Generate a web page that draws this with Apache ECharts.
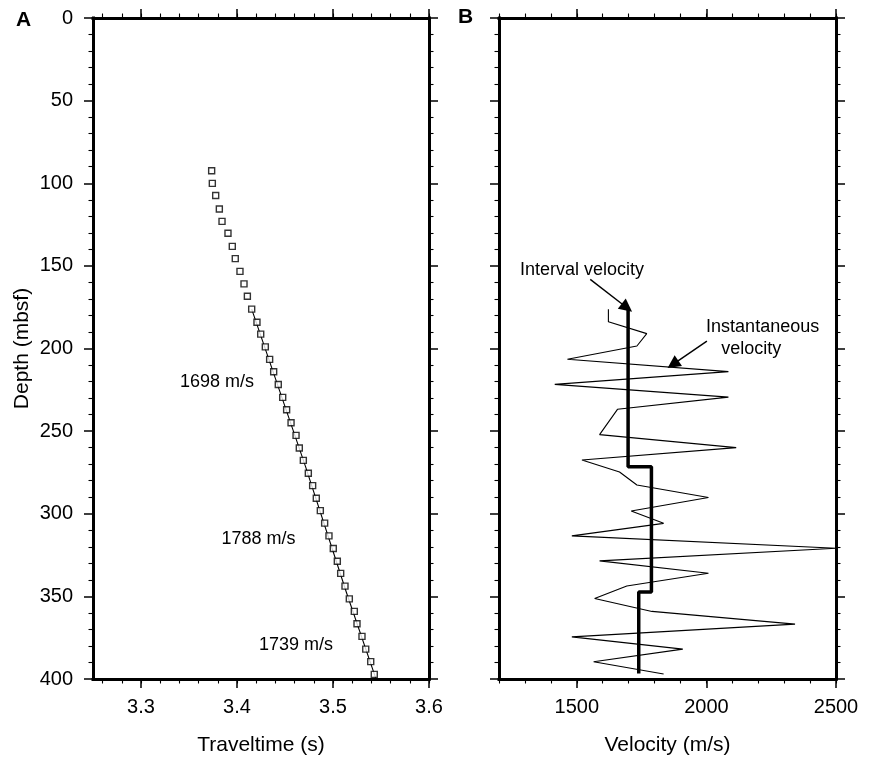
<!DOCTYPE html>
<html>
<head>
<meta charset="utf-8">
<script src="https://cdn.jsdelivr.net/npm/echarts@6/dist/echarts.min.js"></script>
<style>
  html, body { margin: 0; padding: 0; background: #fff; }
  #chart { width: 872px; height: 761px; }
</style>
</head>
<body>
<div id="chart"></div>
<script>
const FONT = 'Liberation Sans, Arial, Helvetica, sans-serif'

// panel A: check-shot traveltimes
const checkDepth = [
  92.4, 100.1, 107.4, 115.6, 123.1, 130.3, 138.2, 145.6, 153.3, 160.9,
  168.4, 176.2, 184.1, 191.3, 199.0, 206.6, 214.1, 221.8, 229.6, 237.1,
  244.9, 252.6, 260.2, 267.7, 275.5, 283.0, 290.6, 298.1, 305.7, 313.4,
  321.0, 328.7, 336.1, 343.8, 351.5, 359.1, 366.6, 374.2, 381.9, 389.5, 397.2
]
const checkTime = [
  3.3736, 3.3743, 3.3778, 3.3816, 3.3844, 3.3906, 3.3951, 3.3982, 3.4031, 3.4073,
  3.4108, 3.4153, 3.4208, 3.4247, 3.4295, 3.4340, 3.4382, 3.4430, 3.4476, 3.4517,
  3.4563, 3.4615, 3.4649, 3.4691, 3.4743, 3.4788, 3.4826, 3.4868, 3.4913, 3.4958,
  3.5003, 3.5045, 3.5080, 3.5125, 3.5170, 3.5222, 3.5250, 3.5302, 3.5341, 3.5393, 3.5430
]
const fitDepth = [176.2, 271.5, 347.5, 399.5]
const fitTime = [3.4153, 3.4714, 3.5139, 3.5445]
const fitLabels = ['1698 m/s', '1788 m/s', '1739 m/s']
const fitLabelTime = [3.3792, 3.4224, 3.4615]
const fitLabelDepth = [220.5, 315.4, 379.5]
const timeTicks = [3.3, 3.4, 3.5, 3.6]

// panel B: velocities
const instDepth = [
  176.3, 183.8, 191.0, 198.5, 206.5, 214.0, 221.7, 229.4, 236.8, 252.1,
  260.0, 267.5, 274.7, 282.6, 290.2, 298.3, 305.8, 313.4, 320.9, 328.5,
  336.0, 343.7, 351.3, 359.1, 366.8, 374.5, 381.9, 389.6, 397.0
]
const instVel = [
  1622, 1622, 1770, 1732, 1464, 2085, 1415, 2085, 1657, 1588,
  2115, 1520, 1665, 1732, 2008, 1710, 1835, 1481, 2500, 1588,
  2008, 1693, 1569, 1790, 2342, 1481, 1909, 1565, 1835
]
const intDepth = [176.3, 271.5, 271.5, 347.4, 347.4, 396.6]
const intVel = [1698, 1698, 1788, 1788, 1739, 1739]
const velTicks = [1500, 2000, 2500]

const zip = (xs, ys) => xs.map((x, i) => [x, ys[i]])
const steps = (from, to, step) => {
  const out = []
  for (let v = from; v <= to + 1e-9; v += step) out.push(Math.round(v * 1000) / 1000)
  return out
}

const black = '#000'
const thick = { show: true, onZero: false, lineStyle: { color: black, width: 3, cap: 'square' } }
const majorTick = { length: 9, lineStyle: { color: black, width: 1.5 } }
const minorTick = { length: 4.5, lineStyle: { color: black, width: 1.1 } }

function frameX(gridIndex, min, max, major, minor, name, fmt) {
  const base = {
    type: 'value', gridIndex, min, max,
    splitLine: { show: false },
    axisLine: { show: false, onZero: false },
    axisLabel: { show: false },
    axisTick: { show: false }
  }
  return [
    {
      ...base, position: 'bottom', axisLine: thick,
      axisTick: { show: true, customValues: major, ...majorTick },
      axisLabel: {
        show: true, customValues: major, formatter: fmt, margin: 18,
        color: black, fontSize: 20, fontFamily: FONT
      },
      name, nameLocation: 'middle', nameGap: 56,
      nameTextStyle: { color: black, fontSize: 21, fontFamily: FONT }
    },
    { ...base, position: 'bottom', axisTick: { show: true, customValues: minor, ...minorTick } },
    { ...base, position: 'top', axisLine: thick, axisTick: { show: true, customValues: major, ...majorTick } },
    { ...base, position: 'top', axisTick: { show: true, customValues: minor, ...minorTick } }
  ]
}

function frameY(gridIndex, labels, name) {
  const base = {
    type: 'value', gridIndex, min: 0, max: 400, interval: 50, inverse: true,
    splitLine: { show: false },
    axisLine: thick,
    axisTick: { show: true, ...majorTick },
    minorTick: { show: true, splitNumber: 5, ...minorTick },
    minorSplitLine: { show: false },
    axisLabel: { show: false }
  }
  const left = { ...base, position: 'left' }
  if (labels) {
    left.axisLabel = { show: true, margin: 20, color: black, fontSize: 20, fontFamily: FONT }
    left.name = name
    left.nameLocation = 'middle'
    left.nameGap = 60
    left.nameTextStyle = { color: black, fontSize: 21, fontFamily: FONT }
  }
  return [left, { ...base, position: 'right' }]
}

const chart = echarts.init(document.getElementById('chart'))

const option = {
  animation: false,
  backgroundColor: '#fff',
  grid: [
    { left: 93, right: 443, top: 18, bottom: 81 },
    { left: 499, right: 36, top: 18, bottom: 81 }
  ],
  xAxis: [
    ...frameX(0, 3.25, 3.6, timeTicks, steps(3.26, 3.6, 0.02), 'Traveltime (s)', v => v.toFixed(1)),
    ...frameX(1, 1200, 2500, velTicks, steps(1200, 2500, 100), 'Velocity (m/s)', v => String(v))
  ],
  yAxis: [
    ...frameY(0, true, 'Depth (mbsf)'),
    ...frameY(1, false)
  ],
  series: [
    {
      type: 'line',
      xAxisIndex: 0,
      yAxisIndex: 0,
      data: zip(fitTime, fitDepth),
      showSymbol: false,
      lineStyle: { color: black, width: 1.1 },
      z: 2
    },
    {
      type: 'scatter',
      xAxisIndex: 0,
      yAxisIndex: 0,
      data: zip(checkTime, checkDepth),
      symbol: 'rect',
      symbolSize: 6,
      itemStyle: { color: '#fff', borderColor: black, borderWidth: 1.4 },
      z: 3
    },
    {
      type: 'line',
      xAxisIndex: 4,
      yAxisIndex: 2,
      data: zip(instVel, instDepth),
      showSymbol: false,
      lineStyle: { color: black, width: 1.1 },
      markLine: {
        silent: true,
        symbol: ['none', 'triangle'],
        symbolSize: 13,
        label: { show: false },
        lineStyle: { color: black, width: 1.4, type: 'solid' },
        data: [[{ coord: [2002, 195.5] }, { coord: [1871, 209.6] }]]
      }
    },
    {
      type: 'line',
      xAxisIndex: 4,
      yAxisIndex: 2,
      data: zip(intVel, intDepth),
      showSymbol: false,
      lineStyle: { color: black, width: 3.5 },
      markLine: {
        silent: true,
        symbol: ['none', 'triangle'],
        symbolSize: 13,
        label: { show: false },
        lineStyle: { color: black, width: 1.4, type: 'solid' },
        data: [[{ coord: [1552, 158.2] }, { coord: [1693.5, 175.3] }]]
      }
    }
  ]
}

chart.setOption(option)

const texts = []
const addText = (x, y, text, size, weight) => {
  texts.push({
    type: 'text', x, y,
    style: {
      text, fill: black, align: 'center', verticalAlign: 'middle',
      font: (weight || 'normal') + ' ' + size + 'px ' + FONT
    }
  })
}

fitLabels.forEach((t, i) => {
  const p = chart.convertToPixel({ seriesIndex: 0 }, [fitLabelTime[i], fitLabelDepth[i]])
  addText(p[0], p[1], t, 18)
})

const annoB = [
  ['Interval velocity', 1520, 152.8],
  ['Instantaneous', 2217, 187.2],
  ['velocity', 2173, 200.5]
]
annoB.forEach(([t, v, d]) => {
  const p = chart.convertToPixel({ seriesIndex: 2 }, [v, d])
  addText(p[0], p[1], t, 18)
})

addText(23.5, 20.5, 'A', 21, 'bold')
addText(465.5, 17.5, 'B', 21, 'bold')

chart.setOption({ graphic: texts })
</script>
</body>
</html>
